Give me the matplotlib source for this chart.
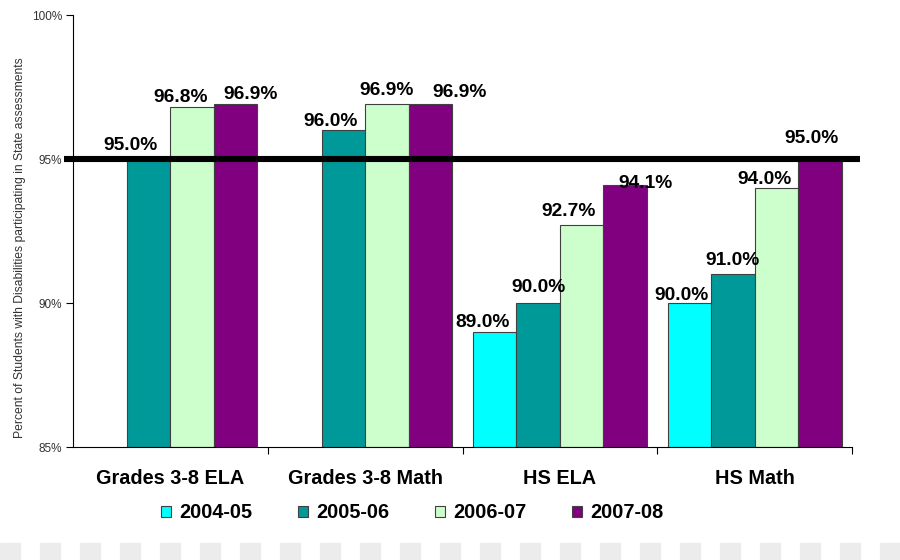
import numpy as np
import matplotlib
matplotlib.use('Agg')
import matplotlib.pyplot as plt
from matplotlib.patches import Rectangle

plt.rcParams['font.family'] = ['Liberation Sans', 'DejaVu Sans']

# data
categories = ['Grades 3-8 ELA', 'Grades 3-8 Math', 'HS ELA', 'HS Math']
years = ['2004-05', '2005-06', '2006-07', '2007-08']
values = {
    '2004-05': [np.nan, np.nan, 89.0, 90.0],
    '2005-06': [95.0, 96.0, 90.0, 91.0],
    '2006-07': [96.8, 96.9, 92.7, 94.0],
    '2007-08': [96.9, 96.9, 94.1, 95.0],
}
target = 95.0
colors = ['#00FFFF', '#009999', '#CCFFCC', '#800080']

# hand-placed label nudges (points) as in the original chart, per year then category
nudge = {
    '2004-05': [(0, 0), (0, 0), (-9, 3.6), (-5.8, 1.9)],
    '2005-06': [(-13, 6.5), (-9.4, 3), (0, 7.6), (0, 6.5)],
    '2006-07': [(-8.3, 3.6), (0, 6.5), (-9.7, 6.5), (-8.3, 2.7)],
    '2007-08': [(10.8, 3.6), (20.9, 5), (14.4, -2), (-5.8, 11.3)],
}

fig = plt.figure(figsize=(9, 5.6), dpi=100)
ax = fig.add_axes([73 / 900, 1 - 447 / 560, 779 / 900, 432 / 560])

x = np.arange(len(categories))
w = 0.2235
for i, yr in enumerate(years):
    pos = x + (i - 1.5) * w
    vals = np.array(values[yr])
    ax.bar(pos, vals - 85, bottom=85, width=w, color=colors[i],
           edgecolor='#404040', linewidth=0.8, label=yr, zorder=2)
    for j, v in enumerate(vals):
        if np.isnan(v):
            continue
        dx, dy = nudge[yr][j]
        ax.annotate(f'{v:.1f}%', (pos[j], v), xytext=(dx, dy),
                    textcoords='offset points', ha='center', va='baseline',
                    fontsize=13.8, fontweight='bold', zorder=4)

# 95% target line
ax.plot([-0.011, 1.01], [target, target], color='black', linewidth=4.4,
        transform=ax.get_yaxis_transform(), clip_on=False, zorder=3,
        solid_capstyle='butt')

ax.set_xlim(-0.5, 3.5)
ax.set_ylim(85, 100)
ax.set_yticks([85, 90, 95, 100])
ax.set_yticklabels(['85%', '90%', '95%', '100%'], fontsize=8.5, color='#333333')
ax.tick_params(axis='y', direction='out', length=5, width=0.8, pad=3)

ax.set_xticks(x)
ax.set_xticklabels(categories, fontsize=14.3, fontweight='bold')
ax.tick_params(axis='x', length=0, pad=16)
ax.set_xticks(x + 0.5, minor=True)
ax.tick_params(axis='x', which='minor', direction='out', length=5, width=0.8)

for s in ['top', 'right']:
    ax.spines[s].set_visible(False)
ax.spines['left'].set_linewidth(0.8)
ax.spines['bottom'].set_linewidth(0.8)

fig.text(20 / 900, 1 - 248 / 560,
         'Percent of Students with Disabilities participating in State assessments',
         rotation=90, ha='center', va='center', fontsize=8.7, color='#333333')

handles, labels = ax.get_legend_handles_labels()
fig.legend(handles, labels, loc='center', bbox_to_anchor=(412 / 900, 1 - 513 / 560),
           ncol=4, frameon=False, prop={'size': 14.3, 'weight': 'bold'},
           handlelength=0.52, handleheight=0.52, handletextpad=0.4,
           columnspacing=2.3)

# transparency checker strip along the bottom edge
for k in range(0, 900, 40):
    fig.patches.append(Rectangle((k / 900, 0), 20 / 900, 17 / 560,
                                 transform=fig.transFigure, color='#ececec',
                                 zorder=0))

fig.savefig('out.png', dpi=100)
